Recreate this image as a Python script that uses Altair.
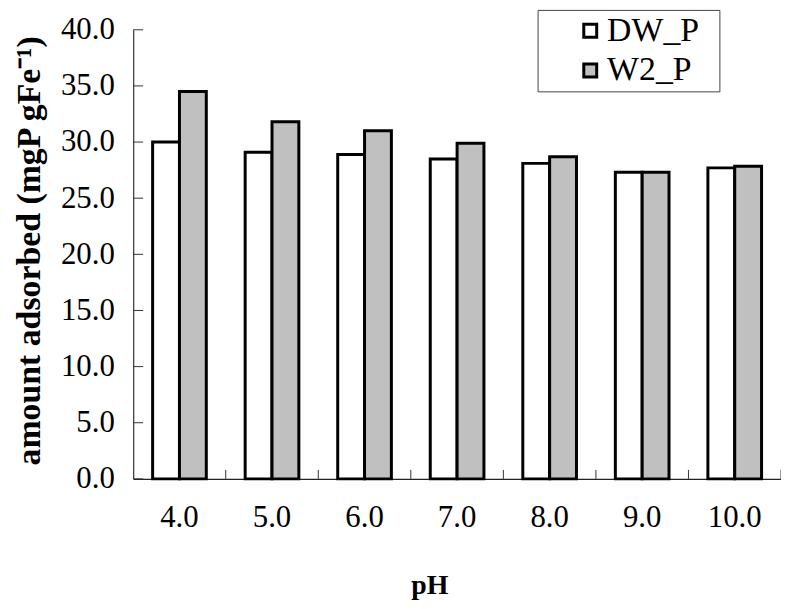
import altair as alt
import pandas as pd

ph_labels = ["4.0", "5.0", "6.0", "7.0", "8.0", "9.0", "10.0"]
dw_p = [30.0, 29.1, 28.9, 28.5, 28.1, 27.3, 27.7]
w2_p = [34.5, 31.8, 31.0, 29.9, 28.7, 27.3, 27.85]
series_names = ["DW_P", "W2_P"]
series_fill = ["#FFFFFF", "#C0C0C0"]
y_ticks = [0, 5, 10, 15, 20, 25, 30, 35, 40]

rows = []
for p, a, b in zip(ph_labels, dw_p, w2_p):
    rows.append({"pH": p, "series": "DW_P", "value": a})
    rows.append({"pH": p, "series": "W2_P", "value": b})
df = pd.DataFrame(rows)

FONT = "Liberation Serif"
n_cat = len(ph_labels)

xscale = alt.Scale(domain=ph_labels, paddingInner=0.42, paddingOuter=0.21)
yscale = alt.Scale(domain=[0, 40])

xaxis = alt.Axis(title="pH", labelAngle=0, ticks=False, domain=True,
                 domainColor="#222", domainWidth=1.2,
                 labelFontSize=31, labelPadding=24, labelFont=FONT,
                 titleFont=FONT, titleFontSize=28, titleFontWeight="bold",
                 titleX=298, titleY=107, titleBaseline="middle")
yaxis = alt.Axis(title="amount adsorbed  (mgP gFe⁻¹)", values=y_ticks,
                 format=".1f", ticks=False, grid=False, domain=True,
                 domainColor="#333", domainWidth=1.2,
                 labelFontSize=31, labelPadding=19, labelFont=FONT,
                 titleFont=FONT, titleFontSize=34, titleFontWeight="bold",
                 titleX=-104, titleY=222, titleBaseline="middle")

bars = alt.Chart(df).mark_bar(stroke="black", strokeWidth=3).encode(
    x=alt.X("pH:N", sort=ph_labels, scale=xscale, axis=xaxis),
    xOffset=alt.XOffset("series:N", sort=series_names,
                        scale=alt.Scale(paddingInner=0, paddingOuter=0)),
    y=alt.Y("value:Q", scale=yscale, axis=yaxis),
    fill=alt.Fill("series:N", sort=series_names,
                  scale=alt.Scale(domain=series_names, range=series_fill),
                  legend=alt.Legend(title="\u00a0", titleOrient="right",
                                    titleFontSize=10, titlePadding=16,
                                    orient="none", legendX=407, legendY=-20,
                                    direction="vertical",
                                    symbolType="square", symbolSize=169,
                                    symbolStrokeColor="black", symbolStrokeWidth=3,
                                    symbolOffset=32,
                                    labelFont=FONT, labelFontSize=34, labelOffset=0,
                                    labelColor="black",
                                    padding=4, rowPadding=6,
                                    strokeColor="#444", fillColor="white")),
)

tick_df = pd.DataFrame({"value": y_ticks})
yticks = alt.Chart(tick_df).mark_rule(color="#333", strokeWidth=1).encode(
    y=alt.Y("value:Q", scale=yscale, axis=yaxis),
    x=alt.value(0),
    x2=alt.value(10),
)

bound_df = pd.DataFrame({"b": list(range(1, n_cat + 1))})
xticks = alt.Chart(bound_df).mark_rule(color="#333", strokeWidth=1).encode(
    x=alt.X("b:Q", scale=alt.Scale(domain=[0, n_cat], nice=False, zero=False), axis=None),
    y=alt.value(452),
    y2=alt.value(443),
)

chart = alt.layer(bars, yticks, xticks).resolve_scale(x="independent").properties(
    width=652,
    height=452,
    autosize=alt.AutoSizeParams(type="none"),
    padding={"left": 126, "top": 20, "right": 0, "bottom": 120},
).configure_view(stroke=None).configure_axis(labelColor="black", titleColor="black")

chart.save("out.html", embed_options={"renderer": "svg", "actions": False})
